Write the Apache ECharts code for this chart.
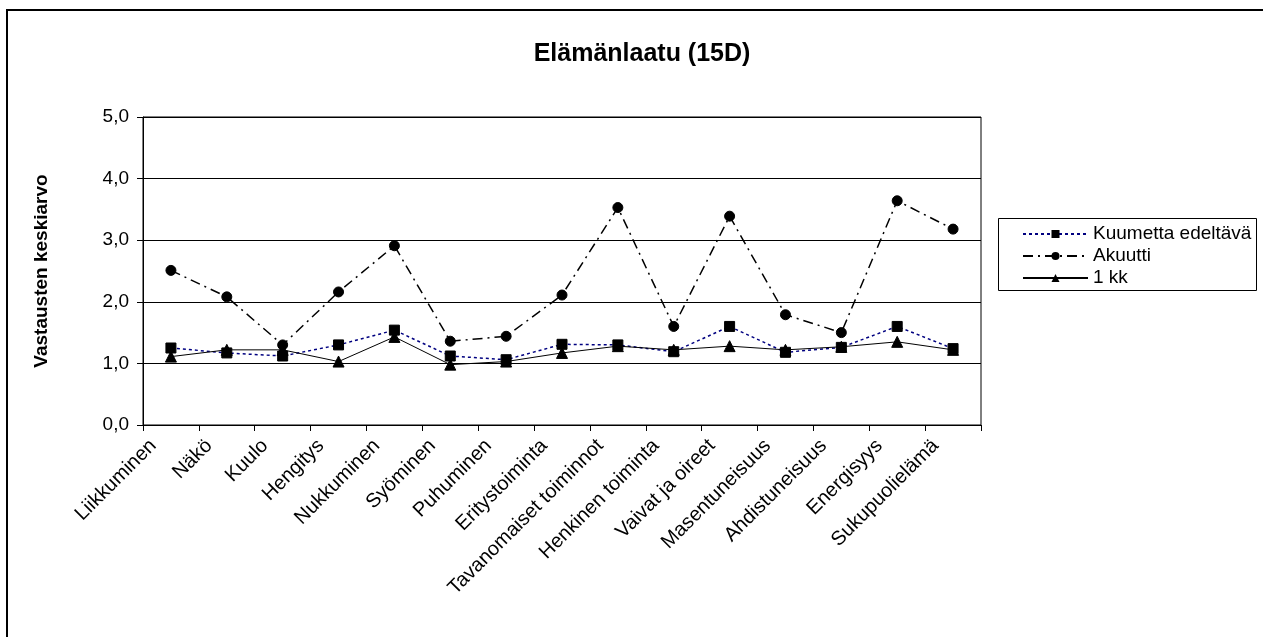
<!DOCTYPE html>
<html>
<head>
<meta charset="utf-8">
<script src="https://cdn.jsdelivr.net/npm/echarts@6/dist/echarts.min.js"></script>
<style>
html,body{margin:0;padding:0;background:#fff;}
#chart{width:1263px;height:637px;}
</style>
</head>
<body>
<div id="chart"></div>
<script>
const categories = ['Liikkuminen','Näkö','Kuulo','Hengitys','Nukkuminen','Syöminen','Puhuminen','Eritystoiminta','Tavanomaiset toiminnot','Henkinen toiminta','Vaivat ja oireet','Masentuneisuus','Ahdistuneisuus','Energisyys','Sukupuolielämä'];
const kuumettaEdeltava = [1.25,1.17,1.12,1.30,1.54,1.12,1.06,1.31,1.30,1.19,1.60,1.18,1.26,1.60,1.24];
const akuutti = [2.51,2.08,1.30,2.16,2.91,1.36,1.44,2.11,3.53,1.60,3.39,1.79,1.50,3.64,3.18];
const kk1 = [1.11,1.22,1.22,1.03,1.43,0.98,1.03,1.17,1.28,1.22,1.28,1.22,1.27,1.35,1.22];
const yTicks = [0,1,2,3,4,5];

const FONT = 'Liberation Sans, Arial, sans-serif';
const chart = echarts.init(document.getElementById('chart'));
chart.setOption({
  animation: false,
  backgroundColor: '#fff',
  textStyle: { fontFamily: FONT, color: '#000' },
  title: {
    text: 'Elämänlaatu (15D)',
    left: 637, top: 37, textAlign: 'center',
    textStyle: { fontFamily: FONT, fontSize: 25, fontWeight: 'bold', color: '#000' }
  },
  graphic: [
    { type: 'rect', shape: { x: 7, y: 10, width: 2000, height: 2000 }, style: { fill: 'none', stroke: '#000', lineWidth: 2 }, silent: true },
    { type: 'rect', shape: { x: 998.5, y: 218.5, width: 258, height: 72 }, style: { fill: '#fff', stroke: '#000', lineWidth: 1 }, silent: true, z: 5 }
  ],
  legend: {
    orient: 'vertical', left: 1022, top: 224, itemWidth: 65, itemHeight: 10, itemGap: 2,
    padding: 0, z: 10,
    textStyle: { fontFamily: FONT, fontSize: 19, color: '#000', lineHeight: 20 },
    data: ['Kuumetta edeltävä','Akuutti','1 kk']
  },
  grid: { left: 143, top: 117, width: 838, height: 308, show: true, borderColor: '#000', borderWidth: 1, containLabel: false },
  xAxis: {
    type: 'category', data: categories, boundaryGap: true,
    axisLine: { lineStyle: { color: '#000', width: 1 } },
    axisTick: { show: true, length: 6, lineStyle: { color: '#000' } },
    axisLabel: { interval: 0, rotate: 45, fontFamily: FONT, fontSize: 20, color: '#000', margin: 0, padding: [0, 25, 0, 0] }
  },
  yAxis: {
    type: 'value', min: yTicks[0], max: yTicks[yTicks.length-1], interval: 1,
    name: 'Vastausten keskiarvo', nameLocation: 'middle', nameGap: 92,
    nameTextStyle: { fontFamily: FONT, fontSize: 19, fontWeight: 'bold', color: '#000' },
    axisLine: { show: true, lineStyle: { color: '#000', width: 1 } },
    axisTick: { show: true, length: 6, lineStyle: { color: '#000' } },
    axisLabel: { fontFamily: FONT, fontSize: 19, color: '#000', margin: 14, formatter: v => v.toFixed(1).replace('.', ',') },
    splitLine: { show: true, lineStyle: { color: '#000', width: 1 } }
  },
  series: [
    { name: 'Kuumetta edeltävä', type: 'line', data: kuumettaEdeltava, symbol: 'rect', symbolSize: 10,
      itemStyle: { color: '#000', borderColor: '#000' },
      lineStyle: { color: '#000080', width: 1.5, type: [3, 3] }, z: 3 },
    { name: 'Akuutti', type: 'line', data: akuutti, symbol: 'circle', symbolSize: 10,
      itemStyle: { color: '#000', borderColor: '#000' },
      lineStyle: { color: '#000', width: 1.5, type: [10, 5, 2, 5] }, z: 2 },
    { name: '1 kk', type: 'line', data: kk1, symbol: 'triangle', symbolSize: 11,
      itemStyle: { color: '#000', borderColor: '#000' },
      lineStyle: { color: '#000', width: 1, type: 'solid' }, z: 4 }
  ]
});
</script>
</body>
</html>
